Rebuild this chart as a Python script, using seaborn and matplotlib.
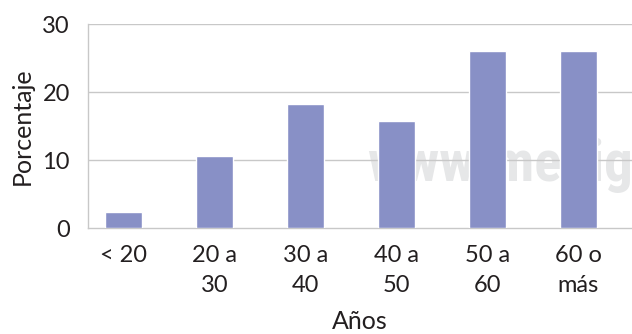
import matplotlib
matplotlib.use("Agg")
import logging
import matplotlib.pyplot as plt
import seaborn as sns
import pandas as pd

logging.getLogger("matplotlib.font_manager").setLevel(logging.ERROR)

categories = ["< 20", "20 a\n30", "30 a\n40", "40 a\n50", "50 a\n60", "60 o\nmás"]
percentages = [2.3, 10.6, 18.2, 15.8, 26.0, 26.0]
y_ticks = [0, 10, 20, 30]

sns.set_theme(style="white")
plt.rcParams["font.family"] = ["Lato", "DejaVu Sans"]

df = pd.DataFrame({"Años": categories, "Porcentaje": percentages})

fig = plt.figure(figsize=(6.32, 3.34), dpi=100)
ax = fig.add_axes([0.139, 0.317, 0.861, 0.611])
ax.set_facecolor("none")

# faint site watermark, behind grid and bars
fig.text(0.581, 0.505, "www.medigraphic.org.mx", fontsize=41, fontweight="bold",
         color="#e6e7e8", ha="left", va="center", zorder=-1,
         fontstretch="condensed",
         family=["Roboto Condensed", "Liberation Sans Narrow",
                 "DejaVu Sans Condensed", "Roboto"])

sns.barplot(data=df, x="Años", y="Porcentaje", color="#8890c6", saturation=1,
            width=0.41, ax=ax, zorder=3)

ax.set_xlim(-0.39, 5.59)
ax.set_ylim(0, 30)
ax.set_yticks(y_ticks)
for y in y_ticks[1:]:
    ax.axhline(y, color="#c8c8c8", lw=1.0, zorder=1)

for s in ["top", "right"]:
    ax.spines[s].set_visible(False)
ax.spines["left"].set_color("#c8c8c8")
ax.spines["bottom"].set_color("#c8c8c8")
ax.spines["left"].set_linewidth(1.0)
ax.spines["bottom"].set_linewidth(1.0)

ax.tick_params(axis="both", length=0, labelsize=17, colors="#231f20")
ax.tick_params(axis="x", pad=12)
ax.tick_params(axis="y", pad=13)
for lbl in ax.get_xticklabels():
    lbl.set_linespacing(1.57)

ax.set_xlabel("Años", fontsize=18, color="#231f20", labelpad=10)
ax.set_ylabel("Porcentaje", fontsize=18, color="#231f20", labelpad=6)

fig.savefig("out.png", dpi=100)
